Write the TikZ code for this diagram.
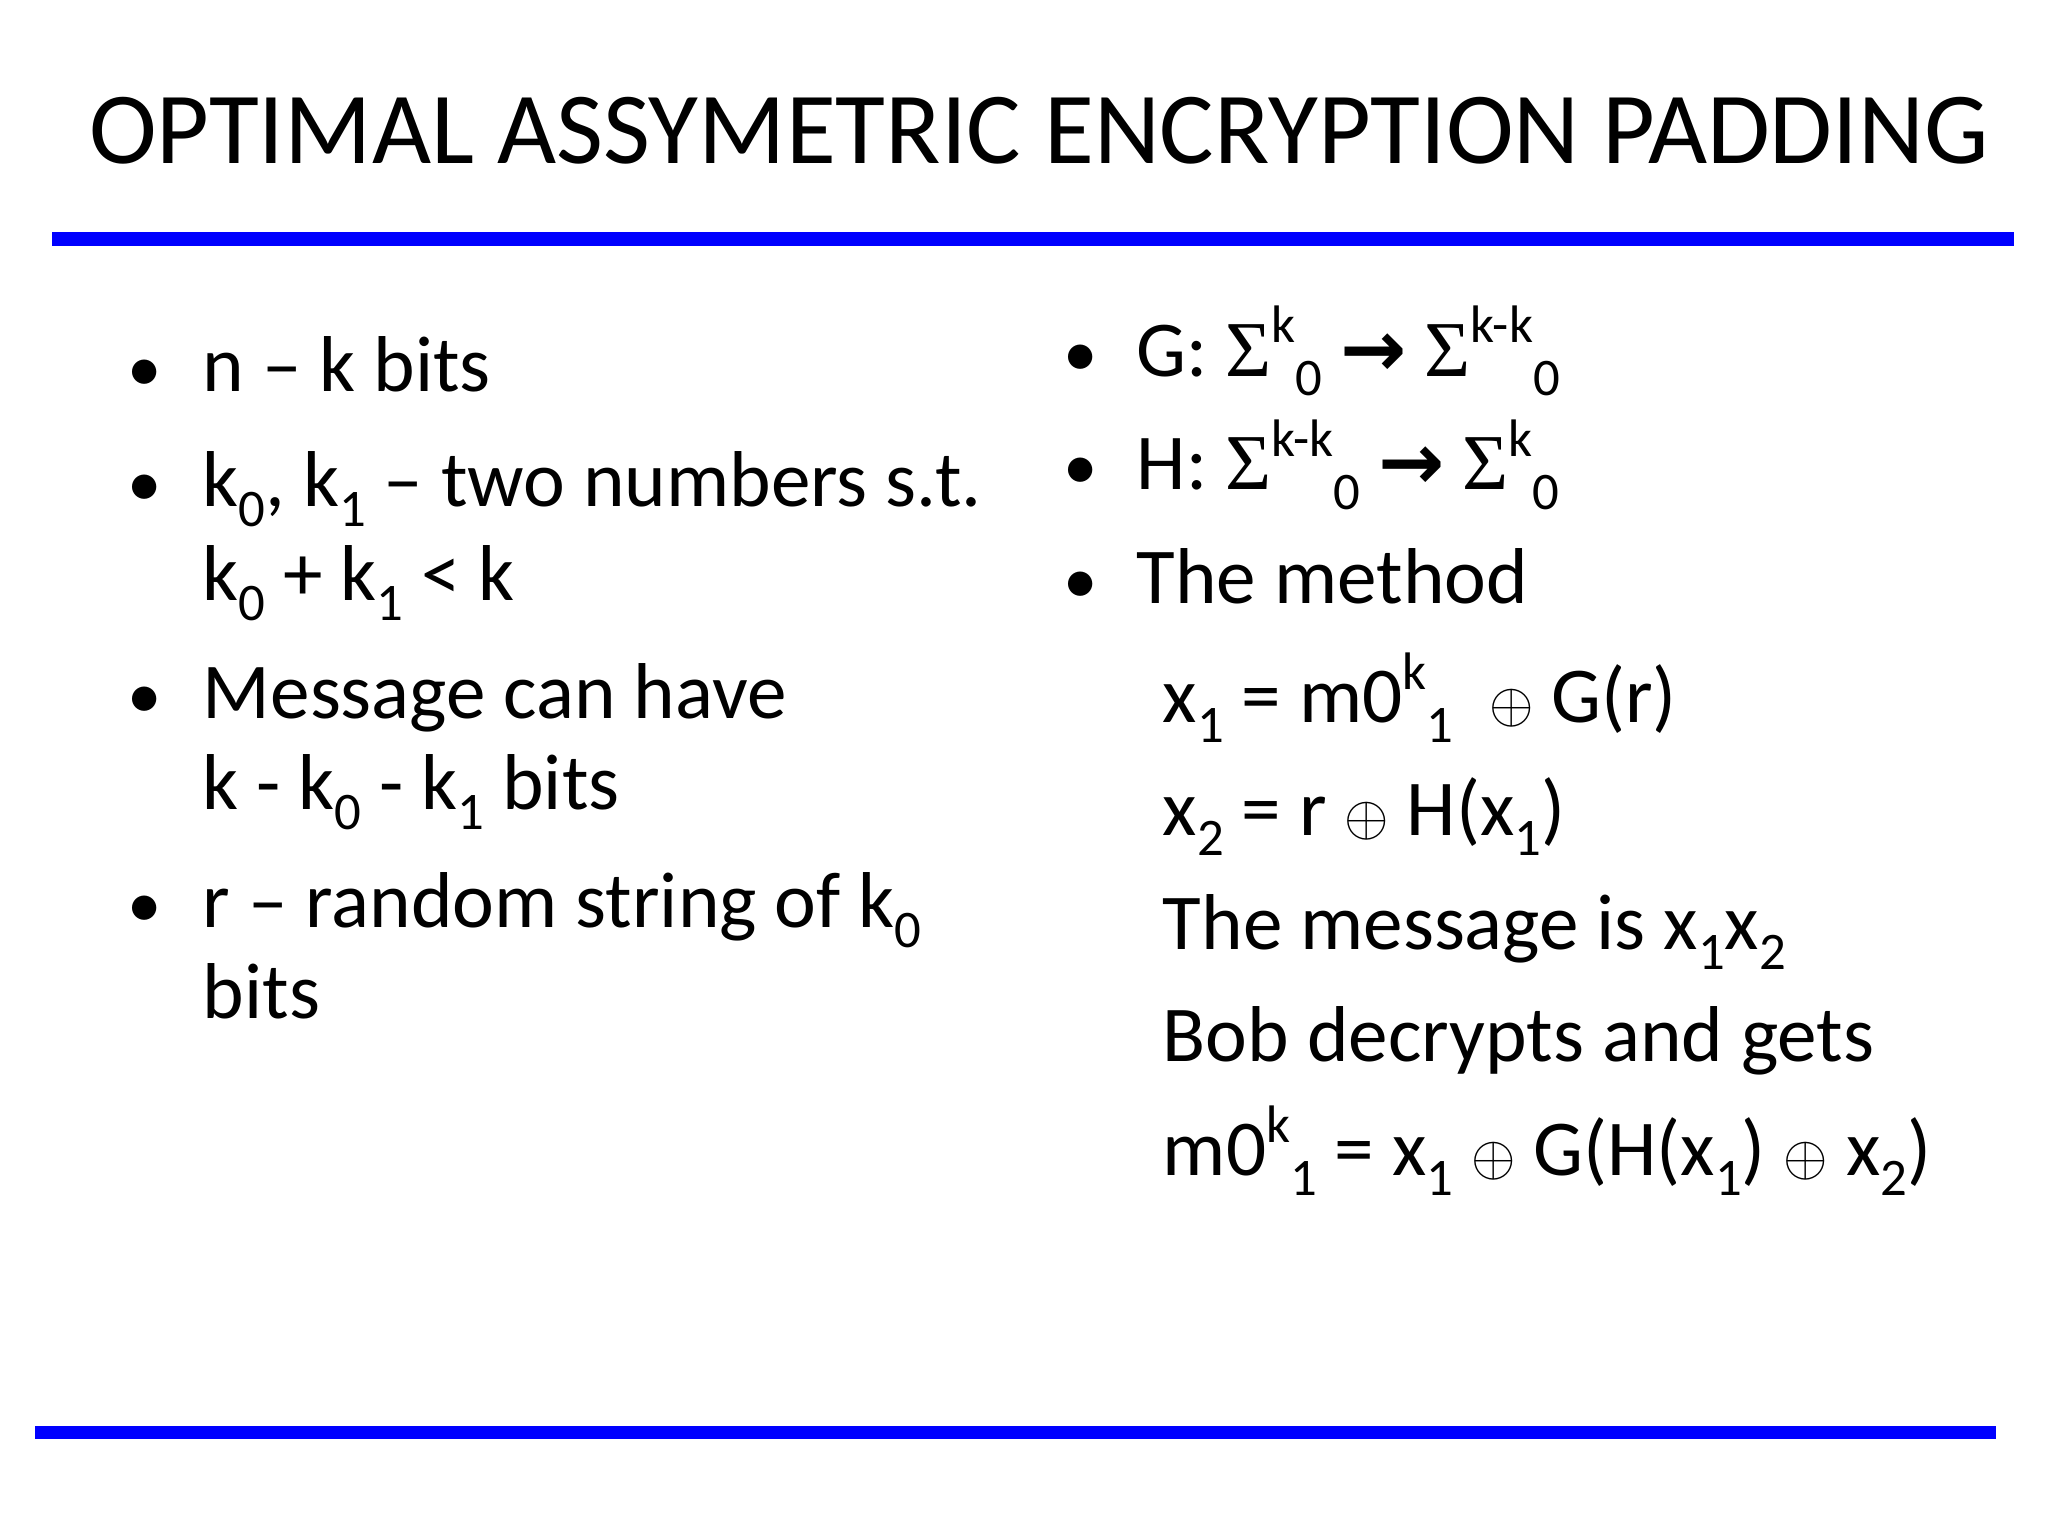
\documentclass[tikz,border=0pt]{standalone}
\usepackage{fontspec}
\setmainfont{Carlito}
\newfontfamily\djfont{DejaVu Sans}
\newfontfamily\serfont{Liberation Serif}
\newcommand{\sig}{{\serfont Σ}}
\newcommand{\arr}{{\djfont\bfseries →}}
\newcommand{\xo}{{\fontsize{40}{40}\selectfont$\oplus$}}
\newcommand{\sbs}[1]{\raisebox{-0.25em}{\fontsize{23}{23}\selectfont #1}}
\newcommand{\sps}[1]{\raisebox{0.42em}{\fontsize{23}{23}\selectfont #1}}
\begin{document}
\begin{tikzpicture}[x=0.02cm,y=-0.02cm,
  t/.style={anchor=base west,inner sep=0,font=\fontsize{34.5}{40}\selectfont},
  bl/.style={anchor=base west,inner sep=0,font=\fontsize{30}{36}\selectfont}]
\useasboundingbox (0,0) rectangle (1568,1176);
\node[anchor=base west,inner sep=0,font=\fontsize{44.5}{50}\selectfont] (title) at (68,125) {OPTIMAL ASSYMETRIC ENCRYPTION PADDING};
\draw[blue,line width=10*0.02cm] (40,183) -- (1542,183);
\draw[blue,line width=10*0.02cm] (27,1097) -- (1528,1097);
% left column
\foreach \y/\n in {300/b1,388/b2,550/b3,710/b4} \node[bl] (\n) at (97,\y) {•};
\node[t] (l1) at (155,300) {n – k bits};
\node[t] (l2) at (155,388) {k\sbs{0}, k\sbs{1} – two numbers s.t.};
\node[t] (l3) at (155,460) {k\sbs{0} + k\sbs{1} < k};
\node[t] (l4) at (155,550) {Message can have};
\node[t] (l5) at (155,620) {k - k\sbs{0} - k\sbs{1} bits};
\node[t] (l6) at (155,710) {r – random string of k\sbs{0}};
\node[t] (l7) at (155,780) {bits};
% right column
\foreach \y/\n in {288/c1,375/c2,462/c3} \node[bl] (\n) at (814,\y) {•};
\node[t] (r1) at (870,288) {G: \sig\sps{k}\sbs{0} \arr\ \sig\sps{k-k}\sbs{0}};
\node[t] (r2) at (870,375) {H: \sig\sps{k-k}\sbs{0} \arr\ \sig\sps{k}\sbs{0}};
\node[t] (r3) at (870,462) {The method};
\node[t] (r4) at (890,553) {x\sbs{1} = m0\sps{k}\sbs{1}\ \ \xo\ G(r)};
\node[t] (r5) at (890,640) {x\sbs{2} = r \xo\ H(x\sbs{1})};
\node[t] (r6) at (890,727) {The message is x\sbs{1}x\sbs{2}};
\node[t] (r7) at (890,813) {Bob decrypts and gets};
\node[t] (r8) at (890,900) {m0\sps{k}\sbs{1} = x\sbs{1} \xo\ G(H(x\sbs{1}) \xo\ x\sbs{2})};
\end{tikzpicture}
\end{document}
